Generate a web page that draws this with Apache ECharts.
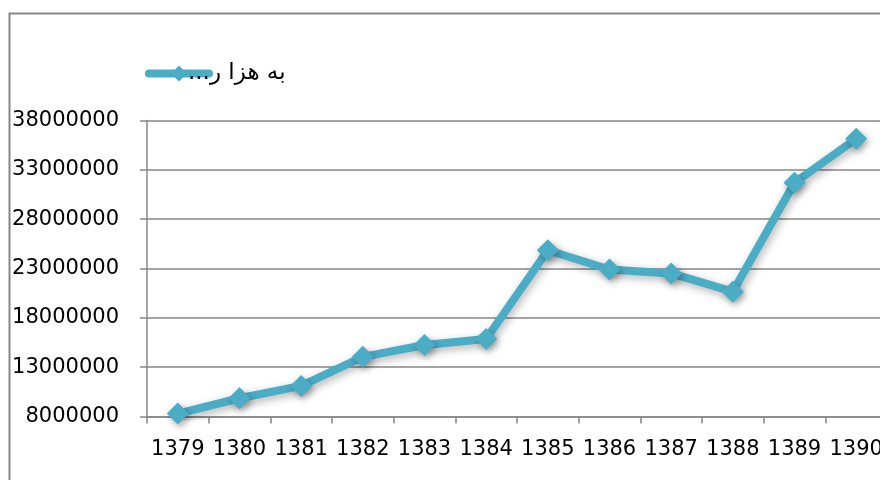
<!DOCTYPE html>
<html>
<head>
<meta charset="utf-8">
<script src="https://cdn.jsdelivr.net/npm/echarts@6/dist/echarts.min.js"></script>
<style>
  html, body { margin: 0; padding: 0; background: #fff; overflow: hidden; }
  /* the plot runs a little past the right edge of the window */
  #chart { width: 900px; height: 480px; }
</style>
</head>
<body>
<div id="chart"></div>
<script>
// Years (Solar Hijri) on the category axis
const years = ['1379', '1380', '1381', '1382', '1383', '1384', '1385', '1386', '1387', '1388', '1389', '1390'];
// Yearly amounts, in thousands
const amounts = [8300000, 9850000, 11100000, 14050000, 15250000, 15850000, 24850000, 22900000, 22500000, 20650000, 31700000, 36150000];
// Series / legend caption
const seriesName = '...به هزا ر';
// Value axis range and step
const yMin = 8000000;
const yMax = 38000000;
const yStep = 5000000;

const lineColor = '#4BACC6';
const axisGray = '#878787';
const fontFamily = 'DejaVu Sans';

const chart = echarts.init(document.getElementById('chart'), null, { renderer: 'canvas' });

chart.setOption({
  animation: false,
  backgroundColor: '#ffffff',
  graphic: [{
    type: 'rect',
    silent: true,
    shape: { x: 9.5, y: 13.5, width: 1000, height: 1000 },
    style: { fill: 'none', stroke: axisGray, lineWidth: 2 }
  }],
  legend: {
    left: 140,
    top: 57,
    itemWidth: 60,
    itemHeight: 20,
    data: [seriesName],
    lineStyle: { width: 8, cap: 'round' },
    textStyle: { fontFamily: fontFamily, fontSize: 23, color: '#000', padding: [0, 0, 0, -26] }
  },
  grid: {
    left: 147,
    top: 120.5,
    width: 740,
    height: 296,
    containLabel: false
  },
  xAxis: {
    type: 'category',
    data: years,
    boundaryGap: true,
    axisLine: { show: true, lineStyle: { color: axisGray, width: 1.5 } },
    axisTick: { show: true, length: 7, alignWithLabel: false, lineStyle: { color: axisGray, width: 1.5 } },
    axisLabel: { color: '#000', fontFamily: fontFamily, fontSize: 21, margin: 23, interval: 0 },
    splitLine: { show: false }
  },
  yAxis: {
    type: 'value',
    min: yMin,
    max: yMax,
    interval: yStep,
    axisLine: { show: true, lineStyle: { color: axisGray, width: 1.5 } },
    axisTick: { show: true, length: 7, lineStyle: { color: axisGray, width: 1.5 } },
    axisLabel: {
      color: '#000', fontFamily: fontFamily, fontSize: 21, margin: 28,
      formatter: (v) => String(v)
    },
    splitLine: { show: true, lineStyle: { color: axisGray, width: 1.5 } }
  },
  series: [{
    name: seriesName,
    type: 'line',
    data: amounts,
    symbol: 'diamond',
    symbolSize: 22,
    lineStyle: {
      color: lineColor,
      width: 8,
      shadowColor: 'rgba(0,0,0,0.3)',
      shadowBlur: 8,
      shadowOffsetX: 2,
      shadowOffsetY: 3
    },
    itemStyle: {
      color: lineColor,
      borderWidth: 0,
      shadowColor: 'rgba(0,0,0,0.35)',
      shadowBlur: 7,
      shadowOffsetX: 2,
      shadowOffsetY: 3
    },
    emphasis: { disabled: true }
  }]
});
</script>
</body>
</html>
